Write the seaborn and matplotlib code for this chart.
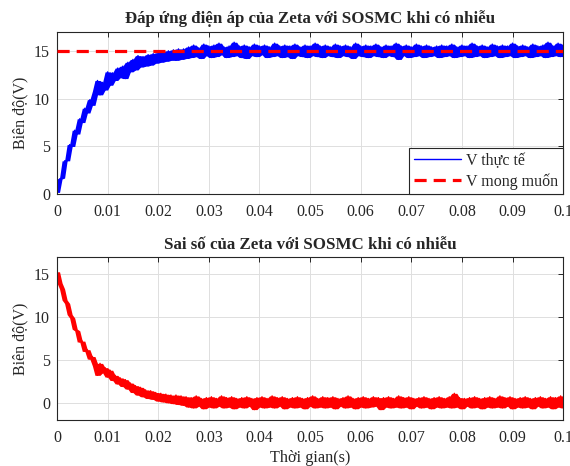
import numpy as np
import pandas as pd
import matplotlib
matplotlib.use("Agg")
import matplotlib.pyplot as plt
import seaborn as sns

# ---------------- data ----------------
t_end = 0.1
v_setpoint = [15.0, 15.0]
v_setpoint_t = [0.0, 0.1]

v_actual = [
    0.2, 1.6, 1.7, 3.5, 3.5, 5.2, 5.0, 6.7, 6.3, 7.9,
    7.5, 9.0, 8.5, 9.9, 9.3, 10.8, 11.9, 10.4, 11.7, 10.9,
    12.8, 11.4, 12.7, 11.9, 13.2, 12.2, 13.4, 12.1, 13.8, 12.8,
    14.1, 13.0, 14.5, 13.3, 14.4, 13.4, 14.6, 13.5, 14.7, 13.7,
    14.8, 13.8, 14.9, 13.9, 15.0, 14.0, 15.1, 14.0, 15.2, 14.1,
    15.2, 14.2,
    15.4, 14.3, 15.6, 14.4, 15.3, 14.2, 15.7, 14.5, 15.5, 14.3,
    15.6, 14.4, 15.8, 14.6, 15.4, 14.3, 15.5, 14.4, 15.9, 14.5,
    15.5, 14.3, 15.6, 14.2, 15.4, 14.5, 15.7, 14.4, 15.5, 14.6,
    15.6, 14.3, 15.4, 14.4, 15.8, 14.5, 15.5, 14.3, 15.6, 14.4,
    15.5, 14.2, 15.7, 14.5, 15.4, 14.4, 15.6, 14.3, 15.5, 14.5,
    15.8, 14.4, 15.5, 14.3, 15.6, 14.5, 15.4, 14.4, 15.7, 14.3,
    15.5, 14.5, 15.6, 14.4, 15.4, 14.2, 15.8, 14.5, 15.5, 14.4,
    15.6, 14.3, 15.5, 14.5, 15.7, 14.4, 15.4, 14.3, 15.6, 14.5,
    15.5, 14.4, 15.8, 14.1, 15.5, 14.5, 15.6, 14.3, 15.4, 14.4,
    15.7, 14.5, 15.5, 14.3, 15.6, 14.4, 15.4, 14.5, 15.5, 14.3,
    15.6, 14.4, 15.5, 14.5, 15.7, 14.3, 15.4, 14.4, 15.6, 14.5,
    15.5, 14.3, 15.8, 14.4, 15.5, 14.5, 15.6, 14.3, 15.4, 14.4,
    15.7, 14.5, 15.5, 14.3, 15.6, 14.4, 15.5, 14.5, 15.8, 14.3,
    15.5, 14.4, 15.6, 14.5, 15.4, 14.3, 15.7, 14.4, 15.5, 14.5,
    15.6, 14.3, 15.9, 14.4, 15.5, 14.5, 15.8, 14.4, 15.6,
]

v_error = [
    15.3, 14.0, 13.3, 12.0, 11.6, 10.3, 9.9, 8.6, 8.4, 7.1,
    7.2, 6.0, 6.2, 5.1, 5.4, 4.3, 3.2, 4.6, 3.5, 4.1,
    3.0, 3.8, 2.6, 3.2, 2.2, 2.9, 1.9, 2.7, 1.6, 2.3,
    1.2, 2.0, 0.9, 1.8, 0.7, 1.5, 0.5, 1.4, 0.4, 1.2,
    0.2, 1.1, 0.1, 1.0, 0.0, 0.9, -0.1, 0.9, -0.2, 0.8,
    -0.3, 0.7,
    -0.5, 0.6, -0.6, 0.8, -0.4, 0.5, -0.7, 0.6, -0.5, 0.7,
    -0.6, 0.5, -0.4, 0.8, -0.6, 0.6, -0.5, 0.7, -0.7, 0.5,
    -0.5, 0.6, -0.6, 0.7, -0.4, 0.5, -0.8, 0.6, -0.5, 0.7,
    -0.6, 0.5, -0.5, 0.8, -0.6, 0.6, -0.4, 0.7, -0.7, 0.5,
    -0.5, 0.6, -0.6, 0.7, -0.5, 0.5, -0.7, 0.6, -0.4, 0.8,
    -0.6, 0.5, -0.5, 0.7, -0.6, 0.6, -0.5, 0.7, -0.7, 0.5,
    -0.4, 0.6, -0.6, 0.8, -0.5, 0.5, -0.7, 0.6, -0.5, 0.7,
    -0.6, 0.5, -0.5, 0.7, -0.4, 0.6, -0.8, 0.6, -0.5, 0.7,
    -0.6, 0.5, -0.5, 0.8, -0.6, 0.6, -0.5, 0.7, -0.7, 0.5,
    -0.4, 0.6, -0.6, 0.7, -0.5, 0.5, -0.7, 0.6, -0.5, 0.7,
    -0.6, 0.5, -0.5, 0.7, -0.6, 1.1, -0.5, 0.6, -0.7, 0.5,
    -0.4, 0.6, -0.6, 0.7, -0.5, 0.5, -0.7, 0.6, -0.5, 0.7,
    -0.6, 0.5, -0.5, 0.8, -0.6, 0.6, -0.4, 0.7, -0.7, 0.5,
    -0.5, 0.6, -0.6, 0.7, -0.5, 0.5, -0.7, 0.6, -0.4, 0.7,
    -0.6, 0.5, -0.5, 0.7, -0.7, 0.6, -0.5, 0.8, -0.6,
]

x_ticks = [0, 0.01, 0.02, 0.03, 0.04, 0.05, 0.06, 0.07, 0.08, 0.09, 0.1]
x_tick_labels = ["0", "0.01", "0.02", "0.03", "0.04", "0.05", "0.06", "0.07", "0.08", "0.09", "0.1"]
y_ticks = [0, 5, 10, 15]

title_top = "Đáp ứng điện áp của Zeta với SOSMC khi có nhiễu"
title_bottom = "Sai số của Zeta với SOSMC khi có nhiễu"
y_label = "Biên độ(V)"
x_label = "Thời gian(s)"
legend_labels = ["V thực tế", "V mong muốn"]

# ---------------- styling ----------------
sns.set_theme(style="white")
plt.rcParams["font.family"] = ["Liberation Serif", "DejaVu Serif"]
plt.rcParams["axes.unicode_minus"] = False

time_v = np.linspace(0, t_end, len(v_actual))
time_e = np.linspace(0, t_end, len(v_error))
df_v = pd.DataFrame({"t": time_v, "v": v_actual})
df_e = pd.DataFrame({"t": time_e, "e": v_error})
df_ref = pd.DataFrame({"t": v_setpoint_t, "v": v_setpoint})


def band(series):
    s = pd.Series(series)
    lo = s.rolling(3, center=True, min_periods=1).min()
    hi = s.rolling(3, center=True, min_periods=1).max()
    return lo.values, hi.values


fig = plt.figure(figsize=(5.7, 4.66), dpi=100)
ax1 = fig.add_axes([0.100, 0.583, 0.888, 0.349])
ax2 = fig.add_axes([0.100, 0.099, 0.888, 0.349])

# noisy measured voltage (dense noise drawn as band + trace)
lo, hi = band(v_actual)
ax1.fill_between(time_v, lo, hi, color=(0, 0, 1), lw=0, zorder=2)
sns.lineplot(data=df_v, x="t", y="v", ax=ax1, color=(0, 0, 1), lw=1.0,
             label=legend_labels[0], zorder=2)
sns.lineplot(data=df_ref, x="t", y="v", ax=ax1, color=(1, 0, 0), lw=2.3,
             linestyle="--", label=legend_labels[1], zorder=3)
ax1.lines[-1].set_dashes([3.8, 2.2])

lo, hi = band(v_error)
ax2.fill_between(time_e, lo, hi, color=(1, 0, 0), lw=0, zorder=2)
sns.lineplot(data=df_e, x="t", y="e", ax=ax2, color=(1, 0, 0), lw=1.0, zorder=2)

for ax, ylim in ((ax1, (0, 17)), (ax2, (-2, 17))):
    ax.set_xlim(0, t_end)
    ax.set_ylim(*ylim)
    ax.set_xticks(x_ticks)
    ax.set_xticklabels(x_tick_labels)
    ax.set_yticks(y_ticks)
    ax.grid(True, color="#dedede", lw=0.7)
    ax.set_axisbelow(True)
    ax.tick_params(direction="in", length=3.5, width=0.7, top=True, right=True,
                   labelsize=11.5, colors="#262626", pad=5)
    ax.tick_params(axis="x", pad=7)
    for s in ax.spines.values():
        s.set_color("#262626")
        s.set_linewidth(0.8)
    ax.set_ylabel(y_label, fontsize=11.5, color="#262626", labelpad=4)
    ax.set_xlabel("")

ax1.set_title(title_top, fontsize=12.2, fontweight="bold", pad=6)
ax2.set_title(title_bottom, fontsize=12.2, fontweight="bold", pad=6)
ax2.set_xlabel(x_label, fontsize=11.7, color="#262626", labelpad=3)

leg = ax1.legend(loc="lower right", fontsize=11.5, frameon=True, fancybox=False,
                 edgecolor="#262626", handlelength=3.0, borderaxespad=0.0,
                 borderpad=0.3, labelspacing=0.25, handletextpad=0.3)
leg.get_frame().set_linewidth(0.8)
leg.get_frame().set_alpha(1)

fig.savefig("out.png", dpi=100)
